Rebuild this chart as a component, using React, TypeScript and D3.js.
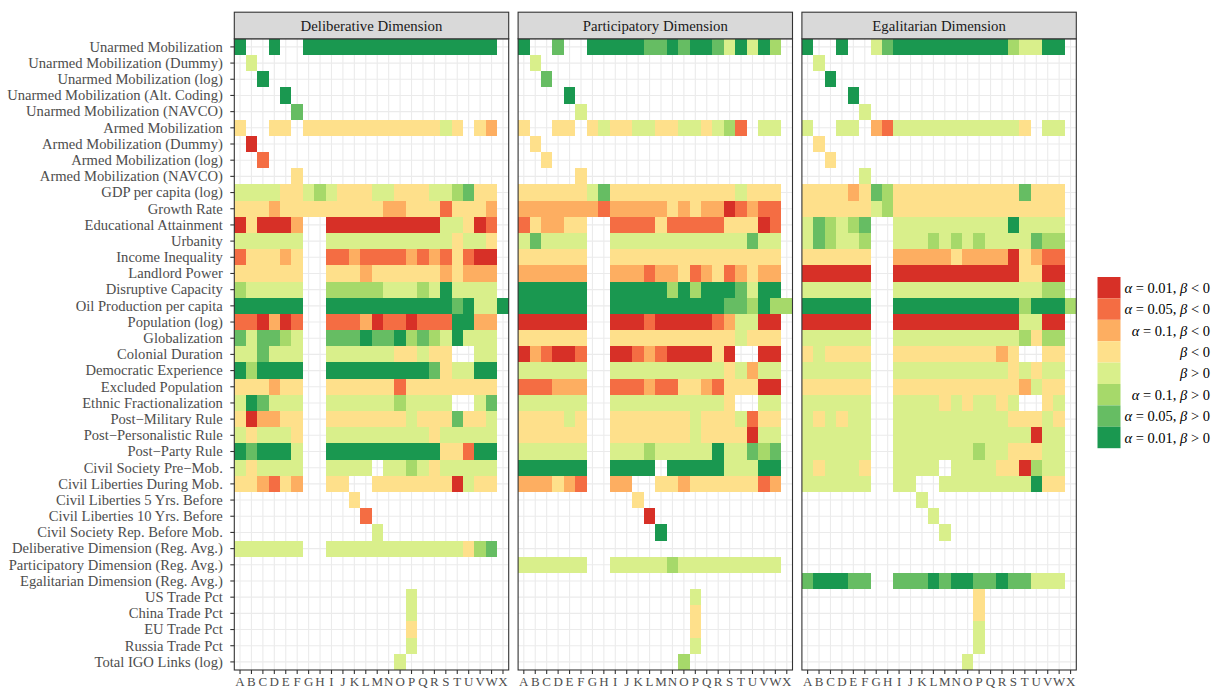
import * as d3 from 'd3';
import * as React from 'react';
import { useEffect, useRef } from 'react';

// model columns (specifications A..X)
const columns = 'ABCDEFGHIJKLMNOPQRSTUVWX'.split('');

const variables = [
  'Unarmed Mobilization',
  'Unarmed Mobilization (Dummy)',
  'Unarmed Mobilization (log)',
  'Unarmed Mobilization (Alt. Coding)',
  'Unarmed Mobilization (NAVCO)',
  'Armed Mobilization',
  'Armed Mobilization (Dummy)',
  'Armed Mobilization (log)',
  'Armed Mobilization (NAVCO)',
  'GDP per capita (log)',
  'Growth Rate',
  'Educational Attainment',
  'Urbanity',
  'Income Inequality',
  'Landlord Power',
  'Disruptive Capacity',
  'Oil Production per capita',
  'Population (log)',
  'Globalization',
  'Colonial Duration',
  'Democratic Experience',
  'Excluded Population',
  'Ethnic Fractionalization',
  'Post\u2212Military Rule',
  'Post\u2212Personalistic Rule',
  'Post\u2212Party Rule',
  'Civil Society Pre\u2212Mob.',
  'Civil Liberties During Mob.',
  'Civil Liberties 5 Yrs. Before',
  'Civil Liberties 10 Yrs. Before',
  'Civil Society Rep. Before Mob.',
  'Deliberative Dimension (Reg. Avg.)',
  'Participatory Dimension (Reg. Avg.)',
  'Egalitarian Dimension (Reg. Avg.)',
  'US Trade Pct',
  'China Trade Pct',
  'EU Trade Pct',
  'Russia Trade Pct',
  'Total IGO Links (log)',
];

const dimensions = ['Deliberative Dimension', 'Participatory Dimension', 'Egalitarian Dimension'];

// significance classes 1..8, '.' = not in model
const legendLabels = [
  'α = 0.01, β < 0',
  'α = 0.05, β < 0',
  'α = 0.1, β < 0',
  'β < 0',
  'β > 0',
  'α = 0.1, β > 0',
  'α = 0.05, β > 0',
  'α = 0.01, β > 0',
];

// columns grouped A-F GHIJKL MNOPQR STUVWX
const deliberative = [
  '8..8.. 888888 888888 88888.',
  '.5.... ...... ...... ......',
  '..8... ...... ...... ......',
  '....8. ...... ...... ......',
  '.....7 ...... ...... ......',
  '4..44. 444444 444444 54.43.',
  '.1.... ...... ...... ......',
  '..2... ...... ...... ......',
  '.....4 ...... ...... ......',
  '555544 565444 554445 56744.',
  '444344 444444 433444 24443.',
  '141113 ..1111 111111 55412.',
  '555555 ..5555 555555 54554.',
  '244434 ..2232 222323 24211.',
  '444444 ..4443 444444 34333.',
  '655555 ..6666 655565 85555.',
  '888888 ..8888 888888 878558',
  '221312 ..2223 122122 28833.',
  '757765 ..7778 778676 58555.',
  '557555 ..5555 554454 4..55.',
  '868888 ..8888 888887 45588.',
  '444344 ..4444 442444 44444.',
  '587555 ..5555 556555 5..57.',
  '413344 ..4444 444544 47445.',
  '545554 ..5555 555554 55555.',
  '878885 ..8888 888888 44288.',
  '545555 ..5555 .55654 55555.',
  '443243 ..44.. 444444 41544.',
  '...... ....4. ...... ......',
  '...... .....2 ...... ......',
  '...... ...... 5..... ......',
  '555555 ..5555 555555 55467.',
  '...... ...... ...... ......',
  '...... ...... ...... ......',
  '...... ...... ...5.. ......',
  '...... ...... ...5.. ......',
  '...... ...... ...4.. ......',
  '...... ...... ...5.. ......',
  '...... ...... ..5... ......',
];

const participatory = [
  '8..7.. 888887 787887 58586.',
  '.5.... ...... ...... ......',
  '..7... ...... ...... ......',
  '....8. ...... ...... ......',
  '.....5 ...... ...... ......',
  '4..44. 454455 445545 62.55.',
  '.4.... ...... ...... ......',
  '..4... ...... ...... ......',
  '.....4 ...... ...... ......',
  '444444 574444 444444 45444.',
  '333333 323333 343433 12322.',
  '243344 ..2222 422222 44412.',
  '575555 ..5555 555555 55755.',
  '444444 ..4444 444444 44444.',
  '333333 ..3332 334234 23433.',
  '888888 ..8888 868688 87588.',
  '888888 ..8888 888888 776866',
  '111111 ..1112 111112 35511.',
  '444444 ..4444 444444 45444.',
  '132112 ..1123 211114 1..11.',
  '555555 ..5555 555555 45355.',
  '222333 ..2223 224432 44411.',
  '555555 ..5555 555555 4..55.',
  '444454 ..4444 444544 45244.',
  '444444 ..4444 444544 44155.',
  '555555 ..5556 555558 55767.',
  '888888 ..8888 .88888 55588.',
  '333432 ..33.. 443444 44423.',
  '...... ....4. ...... ......',
  '...... .....1 ...... ......',
  '...... ...... 8..... ......',
  '...... ...... ...... ......',
  '555555 ..5555 565555 55555.',
  '...... ...... ...... ......',
  '...... ...... ...5.. ......',
  '...... ...... ...4.. ......',
  '...... ...... ...4.. ......',
  '...... ...... ...5.. ......',
  '...... ...... ..6... ......',
];

const egalitarian = [
  '8..8.. 578888 888888 65588.',
  '.5.... ...... ...... ......',
  '..8... ...... ...... ......',
  '....8. ...... ...... ......',
  '.....5 ...... ...... ......',
  '5..55. 325555 555555 54.55.',
  '.4.... ...... ...... ......',
  '..4... ...... ...... ......',
  '.....5 ...... ...... ......',
  '444434 764444 444444 47444.',
  '444444 564444 444444 44444.',
  '576567 ..5555 555555 85555.',
  '576556 ..5556 565655 55766.',
  '444444 ..3333 343333 14322.',
  '111111 ..1111 111111 14411.',
  '555555 ..5555 555555 55566.',
  '888888 ..8888 888888 868886',
  '111111 ..1111 111111 15511.',
  '555555 ..5555 555555 56466.',
  '454444 ..4444 444443 4..44.',
  '555555 ..5555 555555 45455.',
  '444444 ..4444 444444 43544.',
  '555555 ..5555 454554 5..45.',
  '545455 ..5555 555555 44454.',
  '555555 ..5555 555555 55155.',
  '555555 ..5555 555655 44455.',
  '545554 ..5555 .55554 41655.',
  '555555 ..55.. 555555 55844.',
  '...... ....5. ...... ......',
  '...... .....5 ...... ......',
  '...... ...... 5..... ......',
  '...... ...... ...... ......',
  '...... ...... ...... ......',
  '788877 ..7778 788778 77555.',
  '...... ...... ...4.. ......',
  '...... ...... ...4.. ......',
  '...... ...... ...5.. ......',
  '...... ...... ...5.. ......',
  '...... ...... ..5... ......',
];

const panelData = [deliberative, participatory, egalitarian];

const palette = ['#D73027', '#F46D43', '#FDAE61', '#FEE08B', '#D9EF8B', '#A6D96A', '#66BD63', '#1A9850'];

interface ICell {
  variable: string;
  column: string;
  code: string;
}

const toCells = (rows: string[]): ICell[] => {
  const cells: ICell[] = [];
  rows.forEach((row, i) => {
    row
      .replace(/ /g, '')
      .split('')
      .forEach((code, j) => {
        if (code !== '.') cells.push({ variable: variables[i], column: columns[j], code });
      });
  });
  return cells;
};

const FONT = '"Liberation Serif", "Times New Roman", serif';

// greek letters in italics, like the LaTeX legend
const mathText = (sel: any, label: string) => {
  label.split(/([αβ])/).forEach((part) => {
    if (!part) return;
    sel
      .append('tspan')
      .attr('font-style', /[αβ]/.test(part) ? 'italic' : 'normal')
      .text(part);
  });
};

const HeatMap: React.FC = () => {
  const ref = useRef<SVGSVGElement>(null);
  const width = 1216;
  const height = 689;

  useEffect(() => {
    if (!ref.current) return;
    const svg = d3.select(ref.current);
    svg.selectAll('*').remove();

    const panelLeft = 234.3;
    const panelW = 274.4;
    const panelGap = 9.4;
    const panelTop = 38.8;
    const panelBottom = 670;
    const stripTop = 12.2;

    const y = d3.scaleBand<string>().domain(variables).range([panelTop, panelBottom]);
    const color = d3
      .scaleOrdinal<string, string>()
      .domain(['1', '2', '3', '4', '5', '6', '7', '8'])
      .range(palette);

    dimensions.forEach((dim, p) => {
      const x0 = panelLeft + p * (panelW + panelGap);
      const x = d3.scaleBand<string>().domain(columns).range([x0, x0 + panelW]);
      const g = svg.append('g');

      g.append('rect')
        .attr('x', x0)
        .attr('y', panelTop)
        .attr('width', panelW)
        .attr('height', panelBottom - panelTop)
        .attr('fill', '#fff');

      // grid
      g.selectAll('line.vg')
        .data(columns)
        .join('line')
        .attr('x1', (d) => x(d) + x.bandwidth() / 2)
        .attr('x2', (d) => x(d) + x.bandwidth() / 2)
        .attr('y1', panelTop)
        .attr('y2', panelBottom)
        .attr('stroke', '#EBEBEB')
        .attr('stroke-width', 1.1);
      g.selectAll('line.hg')
        .data(variables)
        .join('line')
        .attr('x1', x0)
        .attr('x2', x0 + panelW)
        .attr('y1', (d) => y(d) + y.bandwidth() / 2)
        .attr('y2', (d) => y(d) + y.bandwidth() / 2)
        .attr('stroke', '#EBEBEB')
        .attr('stroke-width', 1.1);

      g.append('g')
        .selectAll('rect')
        .data(toCells(panelData[p]))
        .join('rect')
        .attr('x', (d) => x(d.column))
        .attr('y', (d) => y(d.variable))
        .attr('width', x.bandwidth())
        .attr('height', y.bandwidth())
        .attr('fill', (d) => color(d.code))
        .attr('shape-rendering', 'crispEdges');

      g.append('rect')
        .attr('x', x0)
        .attr('y', panelTop)
        .attr('width', panelW)
        .attr('height', panelBottom - panelTop)
        .attr('fill', 'none')
        .attr('stroke', '#333333')
        .attr('stroke-width', 1.1);

      // strip
      g.append('rect')
        .attr('x', x0)
        .attr('y', stripTop)
        .attr('width', panelW)
        .attr('height', panelTop - stripTop)
        .attr('fill', '#D9D9D9')
        .attr('stroke', '#333333')
        .attr('stroke-width', 1.1);
      g.append('text')
        .attr('x', x0 + panelW / 2)
        .attr('y', (stripTop + panelTop) / 2)
        .attr('dy', '0.35em')
        .attr('text-anchor', 'middle')
        .attr('font-family', FONT)
        .attr('font-size', 14.8)
        .attr('fill', '#1A1A1A')
        .text(dim);

      // x axis
      const xAxis = g.append('g').attr('transform', `translate(0,${panelBottom})`);
      xAxis
        .selectAll('line')
        .data(columns)
        .join('line')
        .attr('x1', (d) => x(d) + x.bandwidth() / 2)
        .attr('x2', (d) => x(d) + x.bandwidth() / 2)
        .attr('y1', 0)
        .attr('y2', 4)
        .attr('stroke', '#333333')
        .attr('stroke-width', 1.1);
      xAxis
        .selectAll('text')
        .data(columns)
        .join('text')
        .attr('x', (d) => x(d) + x.bandwidth() / 2)
        .attr('y', 15.5)
        .attr('text-anchor', 'middle')
        .attr('font-family', FONT)
        .attr('font-size', 13)
        .attr('fill', '#4D4D4D')
        .text((d) => d);

      if (p === 0) {
        const yAxis = g.append('g').attr('transform', `translate(${x0},0)`);
        yAxis
          .selectAll('line')
          .data(variables)
          .join('line')
          .attr('x1', -4)
          .attr('x2', 0)
          .attr('y1', (d) => y(d) + y.bandwidth() / 2)
          .attr('y2', (d) => y(d) + y.bandwidth() / 2)
          .attr('stroke', '#333333')
          .attr('stroke-width', 1.1);
        yAxis
          .selectAll('text')
          .data(variables)
          .join('text')
          .attr('x', -11.5)
          .attr('y', (d) => y(d) + y.bandwidth() / 2)
          .attr('dy', '0.33em')
          .attr('text-anchor', 'end')
          .attr('font-family', FONT)
          .attr('font-size', 14.6)
          .attr('fill', '#4D4D4D')
          .text((d) => d);
      }
    });

    // legend
    const keyX = 1097.5;
    const keyW = 23;
    const keyTop = 277;
    const keyH = 21.4;
    const legend = svg.append('g');
    legendLabels.forEach((label, i) => {
      legend
        .append('rect')
        .attr('x', keyX)
        .attr('y', keyTop + i * keyH)
        .attr('width', keyW)
        .attr('height', keyH)
        .attr('fill', palette[i]);
      const t = legend
        .append('text')
        .attr('x', 1210)
        .attr('y', keyTop + i * keyH + keyH / 2)
        .attr('dy', '0.35em')
        .attr('text-anchor', 'end')
        .attr('font-family', FONT)
        .attr('font-size', 14.5)
        .attr('fill', '#000');
      mathText(t, label);
    });
  }, []);

  return (
    <svg
      ref={ref}
      width={width}
      height={height}
      style={{ position: 'absolute', left: 0, top: 0, display: 'block', background: '#fff' }}
    />
  );
};

export default function App() {
  return <HeatMap />;
}
